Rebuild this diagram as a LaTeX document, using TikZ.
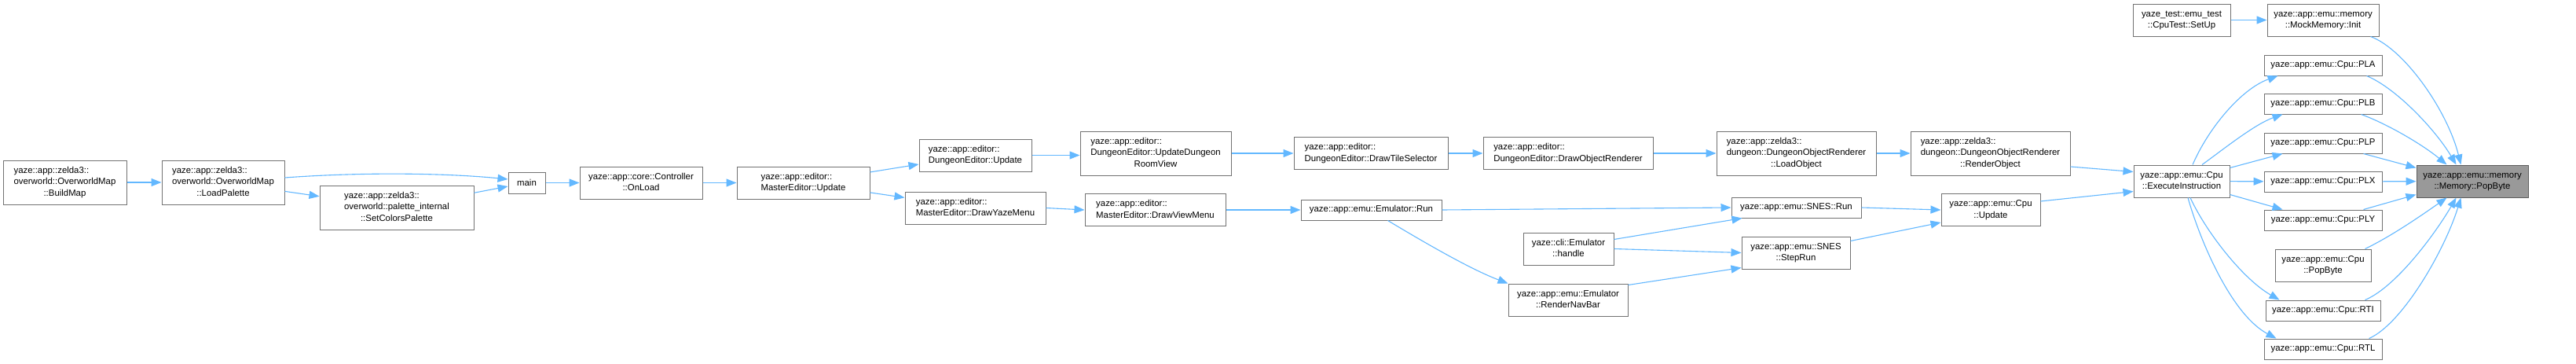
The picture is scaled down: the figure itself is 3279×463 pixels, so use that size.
\documentclass[tikz,border=0pt]{standalone}
\usepackage{fontspec}
\setmainfont{Liberation Sans}
\usetikzlibrary{arrows.meta,calc}
\definecolor{edgeblue}{HTML}{63B8FF}
\definecolor{boxborder}{HTML}{727272}
\definecolor{hlfill}{HTML}{999999}
\definecolor{hlborder}{HTML}{5E5E5E}
\newcommand\lab[2]{\begin{tabular}{@{}l@{}}#1\\\multicolumn{1}{@{}c@{}}{#2}\end{tabular}}
\tikzset{
  box/.style={draw=boxborder, fill=white, line width=1pt, inner sep=0pt, text=black},
  hlbox/.style={draw=hlborder, fill=hlfill, line width=1pt, inner sep=0pt, text=black},
  conn/.style={draw=edgeblue, line width=1.1pt, -{Triangle[length=13pt,width=10pt]}, fill=none},
}
\begin{document}
\begin{tikzpicture}[x=1pt,y=-1pt,every node/.style={font=\fontsize{11.4}{14.7}\selectfont}]
\fill[white] (0,0) rectangle (3279,463);
\useasboundingbox (0,0) rectangle (3279,463);

% nodes
\node[box,minimum width=157pt,minimum height=56pt] (buildmap) at (82.5,232) {\lab{yaze::app::zelda3::\\overworld::OverworldMap}{::BuildMap}};
\node[box,minimum width=156pt,minimum height=56pt] (loadpal) at (284,232) {\lab{yaze::app::zelda3::\\overworld::OverworldMap}{::LoadPalette}};
\node[box,minimum width=196pt,minimum height=56pt] (setcol) at (505,264) {\lab{yaze::app::zelda3::\\overworld::palette\_internal}{::SetColorsPalette}};
\node[box,minimum width=47pt,minimum height=27pt] (main) at (670.5,232.5) {main};
\node[box,minimum width=156pt,minimum height=41pt] (onload) at (816,232.5) {\lab{yaze::app::core::Controller}{::OnLoad}};
\node[box,minimum width=169pt,minimum height=41pt] (meupd) at (1022.5,232.5) {\lab{yaze::app::editor::}{MasterEditor::Update}};
\node[box,minimum width=143pt,minimum height=41pt] (deupd) at (1241.5,197.5) {\lab{yaze::app::editor::}{DungeonEditor::Update}};
\node[box,minimum width=179pt,minimum height=41pt] (yazemenu) at (1241.5,264.5) {\lab{yaze::app::editor::}{MasterEditor::DrawYazeMenu}};
\node[box,minimum width=192pt,minimum height=56pt] (roomview) at (1471,195) {\lab{yaze::app::editor::\\DungeonEditor::UpdateDungeon}{RoomView}};
\node[box,minimum width=179pt,minimum height=41pt] (viewmenu) at (1470.5,267) {\lab{yaze::app::editor::}{MasterEditor::DrawViewMenu}};
\node[box,minimum width=196pt,minimum height=41pt] (tilesel) at (1745,195) {\lab{yaze::app::editor::}{DungeonEditor::DrawTileSelector}};
\node[box,minimum width=216pt,minimum height=41pt] (objrend) at (1996,195) {\lab{yaze::app::editor::}{DungeonEditor::DrawObjectRenderer}};
\node[box,minimum width=179pt,minimum height=26pt] (emurun) at (1745.5,267) {yaze::app::emu::Emulator::Run};
\node[box,minimum width=115pt,minimum height=41pt] (handle) at (1996.5,316.5) {\lab{yaze::cli::Emulator}{::handle}};
\node[box,minimum width=152pt,minimum height=41pt] (navbar) at (1996,381.5) {\lab{yaze::app::emu::Emulator}{::RenderNavBar}};
\node[box,minimum width=203pt,minimum height=56pt] (loadobj) at (2286.5,195) {\lab{yaze::app::zelda3::\\dungeon::DungeonObjectRenderer}{::LoadObject}};
\node[box,minimum width=203pt,minimum height=56pt] (renderobj) at (2533.5,195) {\lab{yaze::app::zelda3::\\dungeon::DungeonObjectRenderer}{::RenderObject}};
\node[box,minimum width=165pt,minimum height=26pt] (snesrun) at (2286.5,264) {yaze::app::emu::SNES::Run};
\node[box,minimum width=138pt,minimum height=41pt] (steprun) at (2286,321.5) {\lab{yaze::app::emu::SNES}{::StepRun}};
\node[box,minimum width=126pt,minimum height=41pt] (cpuupd) at (2534,267) {\lab{yaze::app::emu::Cpu}{::Update}};
\node[box,minimum width=122pt,minimum height=41pt] (exec) at (2777,230.5) {\lab{yaze::app::emu::Cpu}{::ExecuteInstruction}};
\node[box,minimum width=124pt,minimum height=41pt] (setup) at (2777,25.5) {\lab{yaze\_test::emu\_test}{::CpuTest::SetUp}};
\node[box,minimum width=142pt,minimum height=41pt] (mockinit) at (2957,25.5) {\lab{yaze::app::emu::memory}{::MockMemory::Init}};
\node[box,minimum width=150pt,minimum height=26pt] (pla) at (2957,83) {yaze::app::emu::Cpu::PLA};
\node[box,minimum width=150pt,minimum height=26pt] (plb) at (2957,132) {yaze::app::emu::Cpu::PLB};
\node[box,minimum width=150pt,minimum height=26pt] (plp) at (2957,182) {yaze::app::emu::Cpu::PLP};
\node[box,minimum width=150pt,minimum height=26pt] (plx) at (2957,231) {yaze::app::emu::Cpu::PLX};
\node[box,minimum width=150pt,minimum height=26pt] (ply) at (2957,280) {yaze::app::emu::Cpu::PLY};
\node[box,minimum width=122pt,minimum height=41pt] (cpupop) at (2957,337.5) {\lab{yaze::app::emu::Cpu}{::PopByte}};
\node[box,minimum width=146pt,minimum height=26pt] (rti) at (2957,395) {yaze::app::emu::Cpu::RTI};
\node[box,minimum width=150pt,minimum height=26pt] (rtl) at (2957,444) {yaze::app::emu::Cpu::RTL};
\node[hlbox,minimum width=142pt,minimum height=41pt] (mempop) at (3147,230.5) {\lab{yaze::app::emu::memory}{::Memory::PopByte}};

% connectors
\draw[conn] (buildmap) -- (loadpal);
\draw[conn] ($(loadpal.east)+(0,-6)$) .. controls +(110,-8) and +(-70,-7) .. ($(main.west)+(0,-4.5)$);
\draw[conn] (loadpal) -- (setcol);
\draw[conn] (setcol) -- (main);
\draw[conn] (main) -- (onload);
\draw[conn] (onload) -- (meupd);
\draw[conn] (meupd) -- (deupd);
\draw[conn] (meupd) -- (yazemenu);
\draw[conn] (deupd.east) -- (roomview.west |- deupd.east);
\draw[conn] (roomview) -- (tilesel);
\draw[conn] (tilesel) -- (objrend);
\draw[conn] (objrend) -- (loadobj);
\draw[conn] (loadobj) -- (renderobj);
\draw[conn] ($(renderobj.east)+(0,17)$) -- ($(exec.west)+(0,-12)$);
\draw[conn] (yazemenu.east) -- (viewmenu.west);
\draw[conn] (viewmenu) -- (emurun);
\draw[conn] (emurun.east) -- (snesrun.west);
\draw[conn] ($(emurun.south)+(21,0)$) .. controls +(55,33) and +(-45,-17) .. (navbar.north west);
\draw[conn] ($(handle.east)+(0,-12)$) -- ($(snesrun.south west)+(14,0)$);
\draw[conn] (handle.east) -- (steprun.west);
\draw[conn] ($(navbar.north east)+(0,2)$) -- ($(steprun.south west)+(0,-2)$);
\draw[conn] (snesrun.east) -- (cpuupd.west);
\draw[conn] ($(steprun.east)+(0,-15)$) -- ($(cpuupd.west)+(0,16)$);
\draw[conn] ($(cpuupd.east)+(0,-11)$) -- ($(exec.west)+(0,13)$);
\draw[conn] (setup) -- (mockinit);
% ExecuteInstruction fan-out
\draw[conn] ($(exec.north)+(14,0)$) .. controls (2811,163) and (2853,113) .. ($(pla.south west)+(18,0)$);
\draw[conn] ($(exec.north)+(26,0)$) .. controls (2830,190) and (2870,158) .. ($(plb.south west)+(24,0)$);
\draw[conn] ($(exec.east)+(0,-17)$) -- ($(plp.south west)+(24,0)$);
\draw[conn] (exec) -- (plx);
\draw[conn] ($(exec.east)+(0,17)$) -- ($(ply.north west)+(24,0)$);
\draw[conn] ($(exec.south)+(11,0)$) .. controls (2808,295) and (2855,355) .. ($(rti.north west)+(18,0)$);
\draw[conn] ($(exec.south)+(8,0)$) .. controls (2800,305) and (2840,400) .. ($(rtl.north west)+(16,0)$);
% into Memory::PopByte
\draw[conn] ($(mockinit.south east)+(-11,0)$) .. controls (3060,62) and (3115,140) .. ($(mempop.north west)+(57,0)$);
\draw[conn] ($(pla.south east)+(-20,0)$) .. controls (3050,112) and (3100,165) .. ($(mempop.north west)+(51,0)$);
\draw[conn] ($(plb.south east)+(-27,0)$) .. controls (3040,158) and (3085,185) .. ($(mempop.north west)+(39,0)$);
\draw[conn] ($(plp.south east)+(-24,0)$) -- ($(mempop.west)+(0,-17)$);
\draw[conn] (plx) -- (mempop);
\draw[conn] ($(ply.north east)+(-24,0)$) -- ($(mempop.west)+(0,17)$);
\draw[conn] ($(cpupop.north east)+(-8,0)$) .. controls (3045,300) and (3085,272) .. ($(mempop.south west)+(39,0)$);
\draw[conn] ($(rti.north east)+(-20,0)$) .. controls (3050,365) and (3100,297) .. ($(mempop.south west)+(51,0)$);
\draw[conn] ($(rtl.north east)+(-17,0)$) .. controls (3058,412) and (3112,318) .. ($(mempop.south west)+(57,0)$);
\end{tikzpicture}
\end{document}
